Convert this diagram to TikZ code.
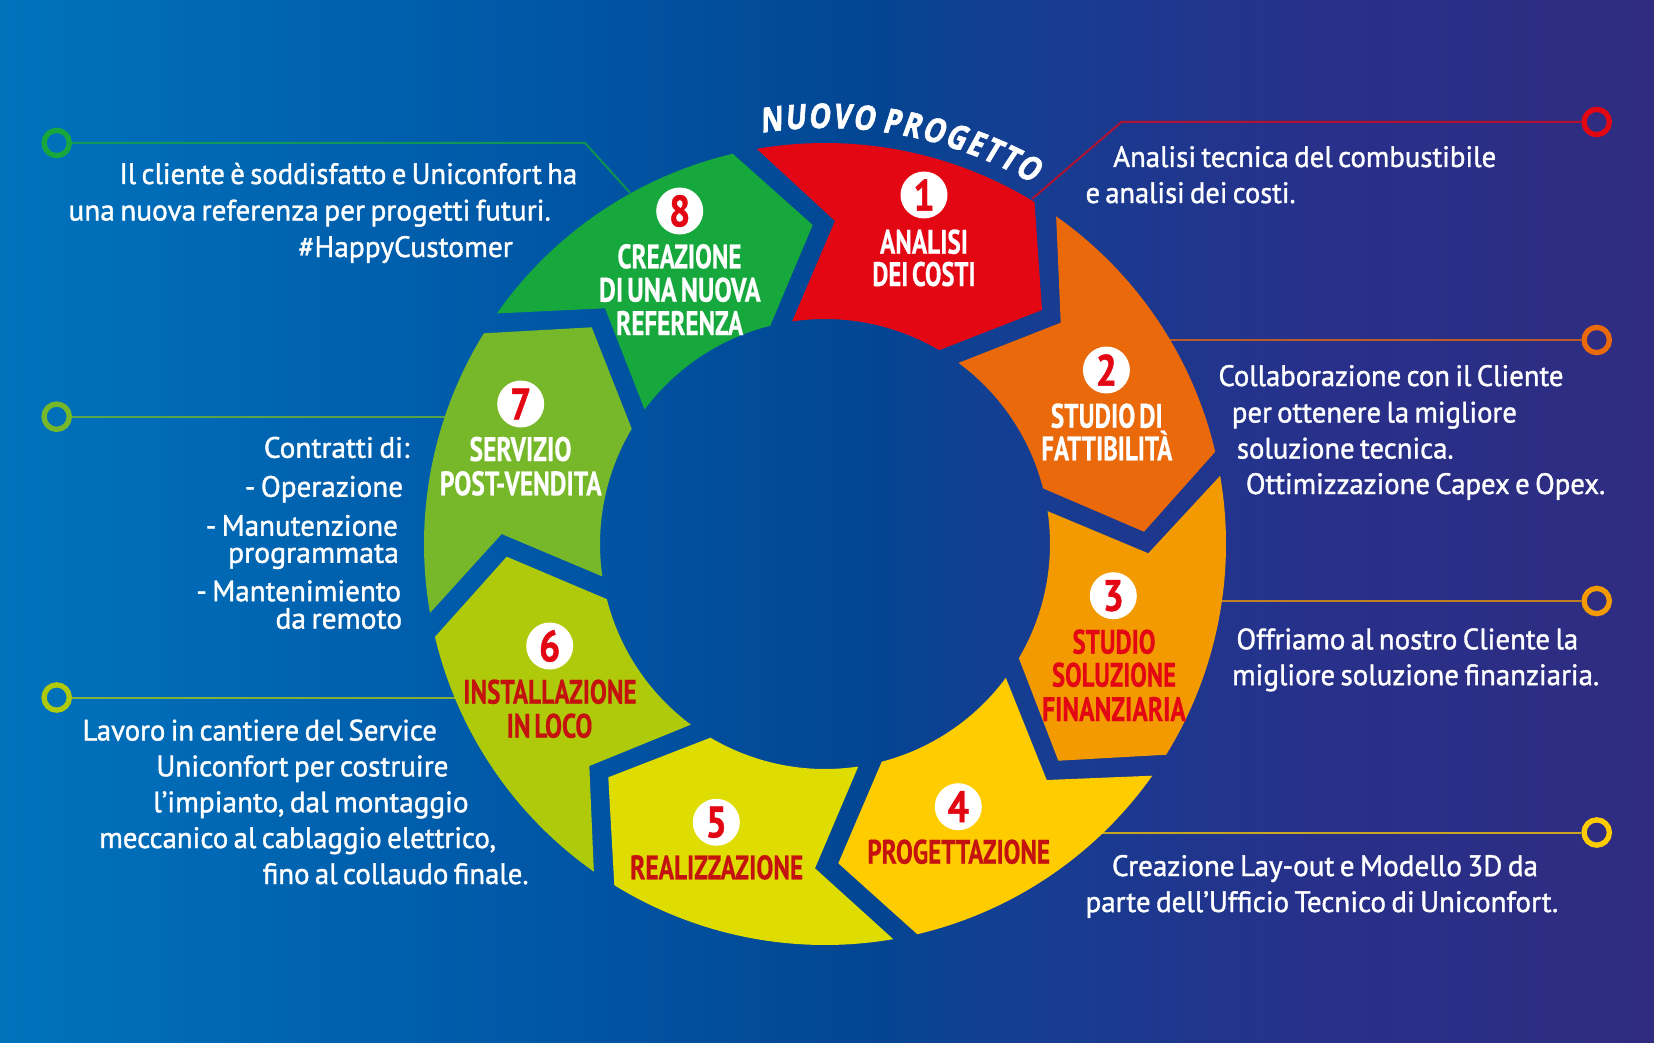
\documentclass[tikz,border=0pt]{standalone}
\usepackage{fontspec}
\usepackage{graphicx}
\usetikzlibrary{decorations.text}
\newfontfamily\bodyf[FakeBold=1.3,WordSpace=0.7]{PT Sans}
\newfontfamily\condf[FakeStretch=0.8,FakeBold=0.4,WordSpace=0.6]{PT Sans}
\newfontfamily\numf[FakeStretch=0.85,FakeBold=1]{PT Sans}
\newfontfamily\headf[FakeStretch=0.8,FakeSlant=0.14,FakeBold=1.8,WordSpace=0.5]{Open Sans}
\definecolor{sA}{HTML}{E30613}
\definecolor{sB}{HTML}{EA690B}
\definecolor{sC}{HTML}{F39A00}
\definecolor{sD}{HTML}{FFCC00}
\definecolor{sE}{HTML}{DEDC00}
\definecolor{sF}{HTML}{AFCA0B}
\definecolor{sG}{HTML}{76B82A}
\definecolor{sH}{HTML}{16A83C}
\definecolor{dred}{HTML}{C4120F}
\pgfdeclarehorizontalshading{bgshade}{100bp}{
  rgb(0bp)=(0,0.451,0.741);
  rgb(25bp)=(0,0.451,0.741);
  rgb(42bp)=(0,0.337,0.647);
  rgb(51.5bp)=(0.012,0.271,0.573);
  rgb(55bp)=(0.075,0.247,0.573);
  rgb(65bp)=(0.157,0.188,0.541);
  rgb(75bp)=(0.184,0.173,0.502);
  rgb(100bp)=(0.184,0.173,0.502)}
\tikzset{
  seg/.style={draw=none},
  conn/.style={line width=2pt,opacity=0.75},
  marker/.style={circle,draw=#1,line width=5.3pt,minimum size=25.3pt,inner sep=0pt},
  numdot/.style={circle,fill=white,minimum size=47pt,inner sep=0pt,text=sA,font=\numf\bfseries\fontsize{44}{44}\selectfont},
  seglabel/.style={anchor=base,inner sep=0pt,font=\condf\bfseries\fontsize{34}{34}\selectfont},
  bodytext/.style={anchor=base west,inner sep=0pt,text=white,font=\bodyf\fontsize{29.5}{29.5}\selectfont}
}
\newcommand{\bline}[5]{\node[bodytext] (#1) at (#2,#3) {\resizebox{#4pt}{\height}{#5}};}
\newcommand{\sline}[6]{\node[seglabel,text=#6] (#1) at (#2,#3) {\resizebox{#4pt}{\height}{#5}};}
\begin{document}
\begin{tikzpicture}[x=1pt,y=-1pt]
\useasboundingbox (0,0) rectangle (1654,1043);
\shade[shading=bgshade] (0,0) rectangle (1654,1043);
\coordinate (ringc) at (825,544);

% markers and connectors
\node[marker=sA] (m1) at (1596.7,122) {};
\node[marker=sB] (m2) at (1596.7,340) {};
\node[marker=sC] (m3) at (1596.7,601) {};
\node[marker=sD] (m4) at (1596.7,832.5) {};
\node[marker=sH] (m8) at (56.7,143) {};
\node[marker=sG] (m7) at (56.7,416.7) {};
\node[marker=sF] (m6) at (56.7,697.5) {};
\coordinate (k1) at (1121.4,122);
\coordinate (e1) at (1032,199);
\coordinate (e2) at (1170,340);
\coordinate (e3) at (1220,601);
\coordinate (e4) at (1095,832.5);
\coordinate (k8) at (585,143);
\coordinate (e8) at (630,192.7);
\coordinate (e7) at (450,416.7);
\coordinate (e6) at (460,697.5);
\draw[conn,draw=sA] (m1) -- (k1) -- (e1);
\draw[conn,draw=sB] (m2) -- (e2);
\draw[conn,draw=sC] (m3) -- (e3);
\draw[conn,draw=sD] (m4) -- (e4);
\draw[conn,draw=sH] (m8) -- (k8) -- (e8);
\draw[conn,draw=sG] (m7) -- (e7);
\draw[conn,draw=sF] (m6) -- (e6);

% ring segments
\fill[seg,sA] ([shift={(260.2:401)}]ringc) arc[start angle=260.2,end angle=301.5,radius=401]
  -- (1042,310) -- ([shift={(300.5:225)}]ringc) arc[start angle=300.5,end angle=261.6,radius=225] -- (835,221) -- cycle;
\fill[seg,sB] ([shift={(305.2:401)}]ringc) arc[start angle=305.2,end angle=346.7,radius=401]
  -- (1144,531.7) -- (1042.9,488.3) -- ([shift={(345.7:225)}]ringc) arc[start angle=345.7,end angle=306.4,radius=225] -- (1060.7,322.7) -- cycle;
\fill[seg,sC] ([shift={(-9.8:401)}]ringc) arc[start angle=-9.8,end angle=31.7,radius=401]
  -- (1058.3,760.7) -- ([shift={(30.5:225)}]ringc) arc[start angle=30.5,end angle=-8.4,radius=225] -- (1148.3,553.3) -- cycle;
\fill[seg,sD] ([shift={(35.3:401)}]ringc) arc[start angle=35.3,end angle=76.7,radius=401]
  -- (838.3,863.3) -- ([shift={(75.4:225)}]ringc) arc[start angle=75.4,end angle=36.5,radius=225] -- (1046.7,780) -- cycle;
\fill[seg,sE] ([shift={(80.2:401)}]ringc) arc[start angle=80.2,end angle=121.7,radius=401]
  -- (608.3,777.3) -- ([shift={(120.6:225)}]ringc) arc[start angle=120.6,end angle=81.5,radius=225] -- (815,868.3) -- cycle;
\fill[seg,sF] ([shift={(125.2:401)}]ringc) arc[start angle=125.2,end angle=166.6,radius=401]
  -- (506.7,556.7) -- ([shift={(165.8:225)}]ringc) arc[start angle=165.8,end angle=126.6,radius=225] -- (589.3,766) -- cycle;
\fill[seg,sG] ([shift={(170.1:401)}]ringc) arc[start angle=170.1,end angle=211.7,radius=401]
  -- (591.7,327.3) -- ([shift={(210.8:225)}]ringc) arc[start angle=210.8,end angle=171.7,radius=225] -- (501.7,534) -- cycle;
\fill[seg,sH] ([shift={(215.1:401)}]ringc) arc[start angle=215.1,end angle=256.7,radius=401]
  -- (812.7,225) -- ([shift={(255.9:225)}]ringc) arc[start angle=255.9,end angle=216.7,radius=225] -- (605,308.3) -- cycle;

% heading on arc
\path[decorate,decoration={text along path,text color=white,text align=fit to path,
  text={|\headf\bfseries\fontsize{34}{34}\selectfont|NUOVO PROGETTO}}]
  ([shift={(261.2:416)}]ringc) arc[start angle=261.2,end angle=299.9,radius=416];

% number dots
\node[numdot] (n1) at (924,195) {1};
\node[numdot] (n2) at (1106.4,370) {2};
\node[numdot] (n3) at (1113.3,595.7) {3};
\node[numdot] (n4) at (958.3,806.7) {4};
\node[numdot] (n5) at (716.3,822.3) {5};
\node[numdot] (n6) at (549.7,646) {6};
\node[numdot] (n7) at (520.7,404) {7};
\node[numdot] (n8) at (679.7,211) {8};

% segment labels
\sline{la1}{924}{253.7}{88}{ANALISI}{white}
\sline{la2}{924}{286}{103}{DEI COSTI}{white}
\sline{lb1}{1106.8}{427.7}{112}{STUDIO DI}{white}
\sline{lb2}{1106.8}{460.3}{131}{FATTIBILITÀ}{white}
\sline{lc1}{1114}{653.7}{83}{STUDIO}{sA}
\sline{lc2}{1114}{686.7}{124}{SOLUZIONE}{sA}
\sline{lc3}{1114}{721}{143.7}{FINANZIARIA}{sA}
\sline{ld1}{958.7}{863.7}{182.7}{PROGETTAZIONE}{dred}
\sline{le1}{716.7}{879.3}{173}{REALIZZAZIONE}{dred}
\sline{lf1}{550}{703.7}{173.3}{INSTALLAZIONE}{dred}
\sline{lf2}{549.5}{737.7}{85.7}{IN LOCO}{dred}
\sline{lg1}{520.5}{461}{102}{SERVIZIO}{white}
\sline{lg2}{520.8}{495.3}{161.7}{POST-VENDITA}{white}
\sline{lh1}{679.5}{268.3}{124}{CREAZIONE}{white}
\sline{lh2}{679.8}{301.7}{161.7}{DI UNA NUOVA}{white}
\sline{lh3}{679.7}{335}{127}{REFERENZA}{white}

% body text
\bline{ta1}{1113}{167}{383}{Analisi tecnica del combustibile}
\bline{ta2}{1085.4}{203}{210}{e analisi dei costi.}
\bline{tb1}{1218.3}{386}{345}{Collaborazione con il Cliente}
\bline{tb2}{1231.7}{422.5}{285}{per ottenere la migliore}
\bline{tb3}{1236.7}{458.5}{216.7}{soluzione tecnica.}
\bline{tb4}{1245.7}{494}{359.3}{Ottimizzazione Capex e Opex.}
\bline{tc1}{1236.2}{649.3}{341.8}{Offriamo al nostro Cliente la}
\bline{tc2}{1232}{685.1}{367}{migliore soluzione finanziaria.}
\bline{td1}{1111.8}{876}{426}{Creazione Lay-out e Modello 3D da}
\bline{td2}{1085.4}{912}{472.6}{parte dell’Ufficio Tecnico di Uniconfort.}
\bline{th1}{119.3}{184}{457.7}{Il cliente è soddisfatto e Uniconfort ha}
\bline{th2}{68.3}{220.5}{482.3}{una nuova referenza per progetti futuri.}
\bline{th3}{298.3}{257}{214.3}{\#HappyCustomer}
\bline{tg1}{263.7}{457.8}{145.6}{Contratti di:}
\bline{tg2}{244.7}{496.8}{158.2}{- Operazione}
\bline{tg3}{205.7}{535.8}{192}{- Manutenzione}
\bline{tg4}{227.8}{562.8}{170.9}{programmata}
\bline{tg5}{196.2}{601.2}{204.6}{- Mantenimiento}
\bline{tg6}{275.3}{628.7}{126.6}{da remoto}
\bline{tf1}{82.3}{740.5}{354.4}{Lavoro in cantiere del Service}
\bline{tf2}{156.1}{776.3}{292.2}{Uniconfort per costruire}
\bline{tf3}{153}{812.2}{315.4}{l’impianto, dal montaggio}
\bline{tf4}{99.2}{848}{396.6}{meccanico al cablaggio elettrico,}
\bline{tf5}{262.6}{884}{265.8}{fino al collaudo finale.}
\end{tikzpicture}
\end{document}
